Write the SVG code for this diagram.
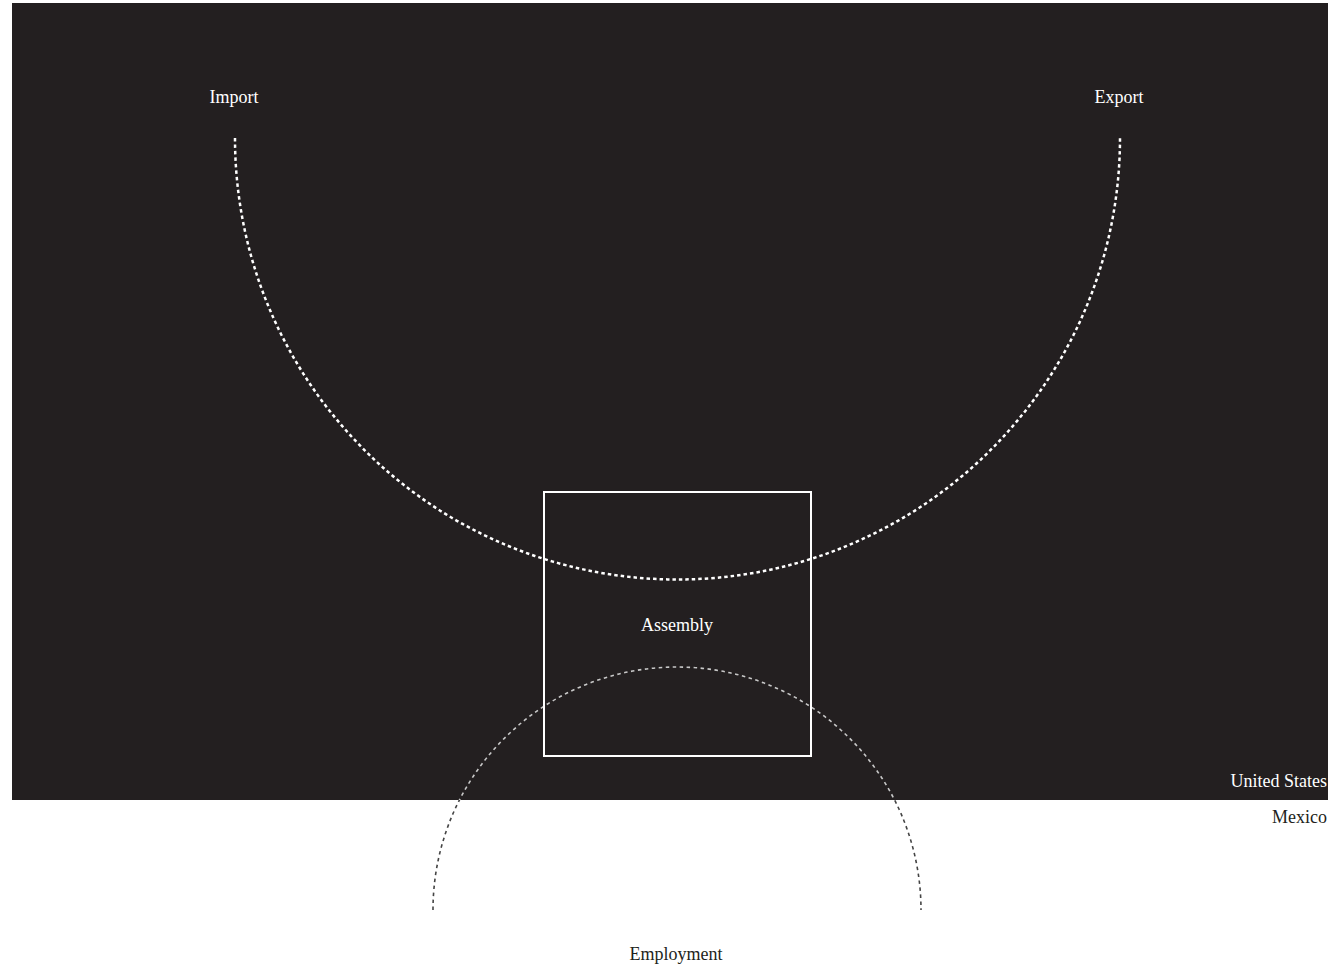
<svg xmlns="http://www.w3.org/2000/svg" width="1328" height="968" viewBox="0 0 1328 968">
<style>
.lbl{font-family:"Liberation Serif","Times New Roman",serif;font-size:18px;text-anchor:middle}
.w{fill:#ffffff}
.k{fill:#231f20}
</style>
<defs>
<clipPath id="top"><rect x="0" y="0" width="1328" height="800"/></clipPath>
<clipPath id="bot"><rect x="0" y="800" width="1328" height="168"/></clipPath>
</defs>
<rect width="1328" height="968" fill="#ffffff"/>
<g id="us-region">
<rect x="12" y="3" width="1316" height="797" fill="#231f20"/>
</g>
<g id="connectors">
<path d="M235,138 A442,441 0 0 0 1120,138" fill="none" stroke="#ffffff" stroke-width="2.5" stroke-dasharray="3.5 3"/>
<g fill="none" stroke-width="1.6" stroke-dasharray="3.5 3.5">
<path clip-path="url(#top)" d="M433,910 A244,243 0 0 1 921,910" stroke="#c8c8c8"/>
<path clip-path="url(#bot)" d="M433,910 A244,243 0 0 1 921,910" stroke="#444444"/>
</g>
</g>
<g id="assembly">
<rect x="544" y="492" width="267" height="264" fill="none" stroke="#ffffff" stroke-width="2"/>
<text class="lbl w" x="677" y="631">Assembly</text>
</g>
<g id="import"><text class="lbl w" x="234" y="103">Import</text></g>
<g id="export"><text class="lbl w" x="1119" y="103">Export</text></g>
<g id="united-states"><text class="lbl w" x="1327" y="787" style="text-anchor:end">United States</text></g>
<g id="mexico"><text class="lbl k" x="1327" y="823" style="text-anchor:end">Mexico</text></g>
<g id="employment"><text class="lbl k" x="676" y="960">Employment</text></g>
</svg>
